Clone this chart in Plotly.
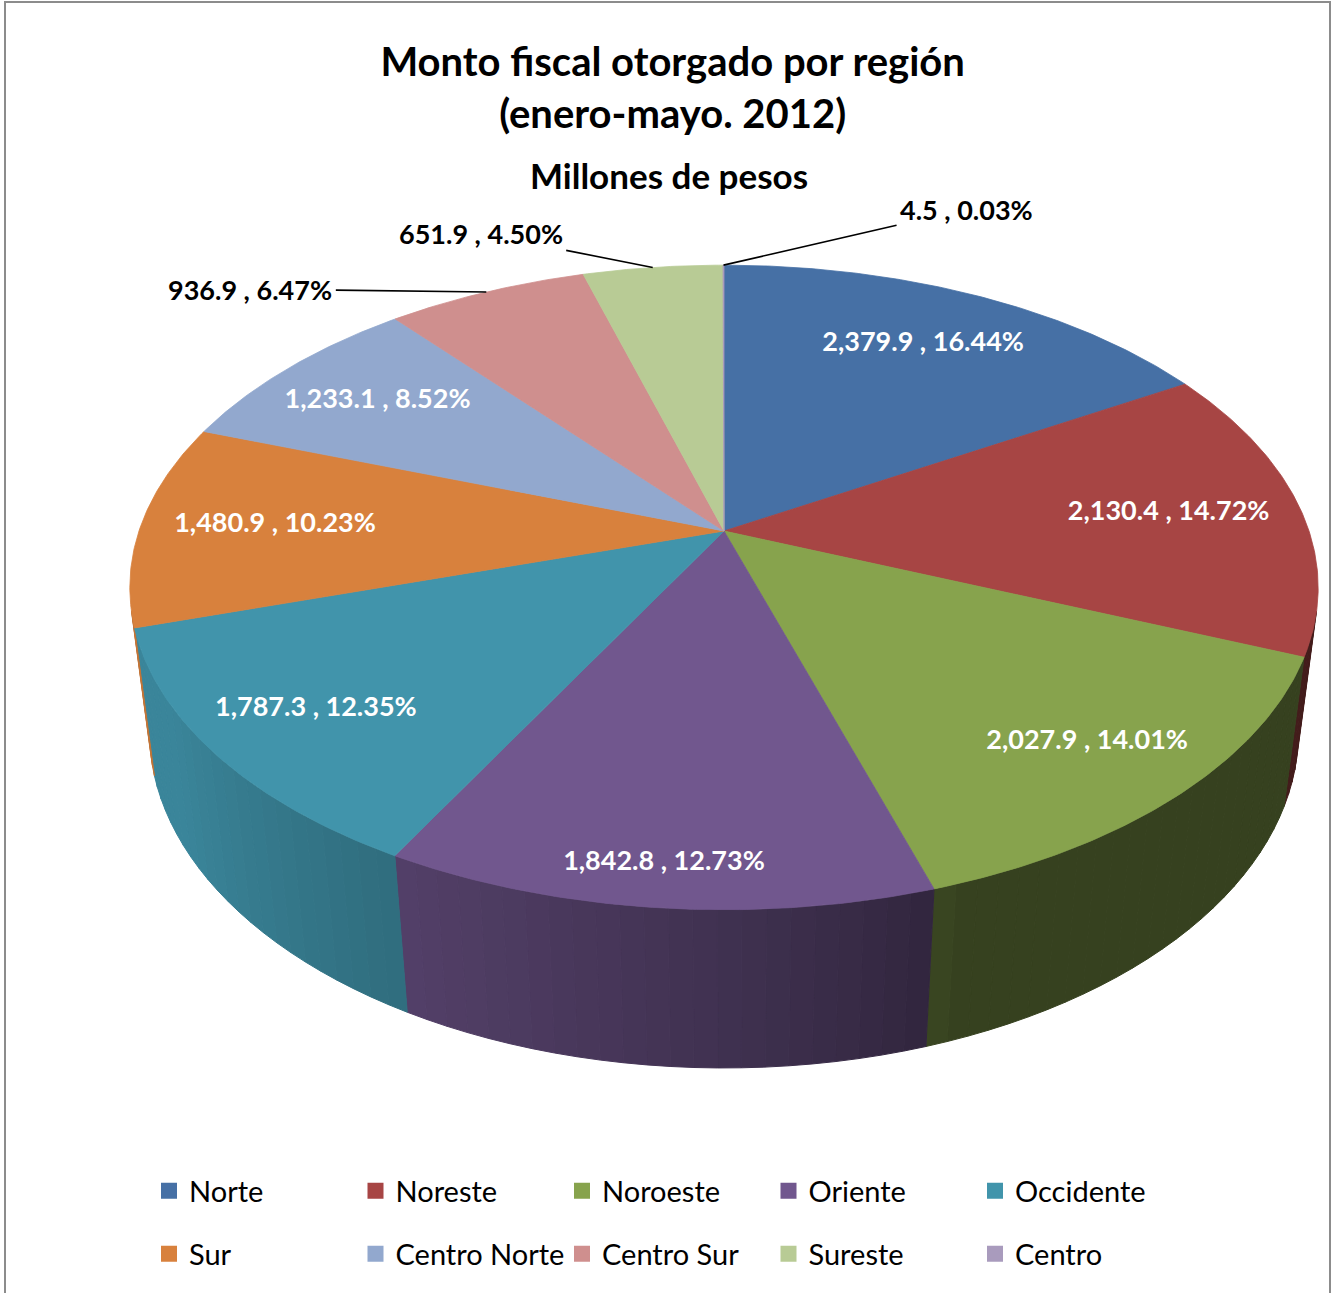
import numpy as np
import plotly.graph_objects as go

# ---------------- data ----------------
regions = ["Norte", "Noreste", "Noroeste", "Oriente", "Occidente",
           "Sur", "Centro Norte", "Centro Sur", "Sureste", "Centro"]
amounts = [2379.9, 2130.4, 2027.9, 1842.8, 1787.3,
           1480.9, 1233.1, 936.9, 651.9, 4.5]
shares = [16.44, 14.72, 14.01, 12.73, 12.35,
          10.23, 8.52, 6.47, 4.50, 0.03]

# ---------------- styles ----------------
colors = ["#4670A5", "#A74544", "#87A34D", "#71578E", "#4194AB",
          "#D8813D", "#92A8CE", "#CF8F8E", "#B8CB95", "#A99BBD"]
FONT = "Lato, 'Open Sans', sans-serif"
W, H = 1332, 1293

# 3D projection of the pie (pixel geometry)
CX, CY = 724.0, 531.0        # centre of the pie top
SR = 585.0                   # radius scale in px
DIST = 4.83                  # camera distance (in radii)
SINP = 0.534
PHI = np.arcsin(SINP)
THICK = 0.30                 # pie thickness (in radii)

# label placement (style): radial position of inside labels, offsets of outside labels
label_radius = {"Norte": 0.77, "Noreste": 0.77, "Noroeste": 0.82, "Oriente": 0.90,
                "Occidente": 0.82, "Sur": 0.77, "Centro Norte": 0.78}
outside_offsets = {"Centro Sur": (-236, -3), "Sureste": (-172, -34), "Centro": (243, -56)}


def project(r, theta, z=0.0):
    x = r * np.sin(theta)
    y = r * np.cos(theta)
    v = y * np.sin(PHI) + z * np.cos(PHI)
    w = DIST + y * np.cos(PHI) - z * np.sin(PHI)
    X = CX + SR * x * DIST / w
    Y = CY - SR * v * DIST / w
    return X, Y


def hex_to_rgb(h):
    h = h.lstrip("#")
    return tuple(int(h[i:i + 2], 16) for i in (0, 2, 4))


def shade(hexcol, f):
    r, g, b = hex_to_rgb(hexcol)
    return "rgb(%d,%d,%d)" % (round(r * f), round(g * f), round(b * f))


def wall_factor(theta_deg):
    t = np.clip((theta_deg - 160.0) / 80.0, 0, 1)
    return 0.40 + 0.5 * t ** 0.8


vals = np.array(amounts, dtype=float)
bounds = np.concatenate([[0.0], np.cumsum(vals) / vals.sum() * 2 * np.pi])

# visible range of the side wall
cos_lim = -1.0 / (DIST * np.cos(PHI))
vis0 = np.arccos(cos_lim)
vis1 = 2 * np.pi - vis0

fig = go.Figure()

# ---- side walls ----
for i, reg in enumerate(regions):
    a0, a1 = max(bounds[i], vis0), min(bounds[i + 1], vis1)
    if a1 <= a0:
        continue
    nseg = max(1, int(np.ceil(np.degrees(a1 - a0) / 2.0)))
    edges = np.linspace(a0, a1, nseg + 1)
    for k in range(nseg):
        ta = np.linspace(edges[k], edges[k + 1], 4)
        xt, yt = project(1.0, ta, 0.0)
        xb, yb = project(1.0, ta[::-1], -THICK)
        xs = np.concatenate([xt, xb, xt[:1]])
        ys = np.concatenate([yt, yb, yt[:1]])
        col = shade(colors[i], wall_factor(np.degrees((edges[k] + edges[k + 1]) / 2)))
        fig.add_trace(go.Scatter(x=xs, y=ys, mode="lines", fill="toself",
                                 fillcolor=col, line=dict(color=col, width=1),
                                 hoverinfo="skip", showlegend=False))

# ---- top surfaces ----
for i, reg in enumerate(regions):
    n = max(3, int(np.ceil(np.degrees(bounds[i + 1] - bounds[i]) / 0.5)))
    ta = np.linspace(bounds[i], bounds[i + 1], n)
    xa, ya = project(1.0, ta, 0.0)
    xs = np.concatenate([[CX], xa, [CX]])
    ys = np.concatenate([[CY], ya, [CY]])
    fig.add_trace(go.Scatter(x=xs, y=ys, mode="lines", fill="toself",
                             fillcolor=colors[i], line=dict(color=colors[i], width=0.8),
                             hoverinfo="text", text=reg, showlegend=False))

# ---- labels ----
label_text = ["%s , %.2f%%" % (f"{a:,.1f}", s) for a, s in zip(amounts, shares)]
mids = (bounds[:-1] + bounds[1:]) / 2
in_x, in_y, in_t = [], [], []
annotations = []
for i, reg in enumerate(regions):
    if reg in outside_offsets:
        px, py = project(1.0, mids[i], 0.0)
        ax, ay = outside_offsets[reg]
        annotations.append(dict(x=px, y=py, xref="x", yref="y", ax=ax, ay=ay,
                                text="<b>%s</b>" % label_text[i], showarrow=True,
                                arrowhead=0, arrowwidth=1.6, arrowcolor="black",
                                standoff=0, startstandoff=2,
                                font=dict(family=FONT, size=27, color="black")))
    else:
        px, py = project(label_radius[reg], mids[i], 0.0)
        in_x.append(px)
        in_y.append(py)
        in_t.append(label_text[i])

fig.add_trace(go.Scatter(x=in_x, y=in_y, mode="text", text=in_t,
                         textposition="middle center",
                         textfont=dict(family=FONT, size=27, color="white", weight="bold"),
                         hoverinfo="skip", showlegend=False))

# ---- legend entries ----
for i, reg in enumerate(regions):
    fig.add_trace(go.Scatter(x=[None], y=[None], mode="markers", name=reg,
                             marker=dict(symbol="square", size=16, color=colors[i]),
                             legend="legend" if i < 5 else "legend2"))

# subtitle
annotations.append(dict(x=0.502, y=1 - 175 / H, xref="paper", yref="paper",
                        text="<b>Millones de pesos</b>", showarrow=False,
                        xanchor="center", yanchor="middle",
                        font=dict(family=FONT, size=35, color="black")))

legend_common = dict(orientation="h", xanchor="left", yanchor="middle",
                     entrywidth=161.5, entrywidthmode="pixels",
                     font=dict(family=FONT, size=29, color="black"),
                     bgcolor="rgba(0,0,0,0)", itemclick=False, itemdoubleclick=False)

fig.update_layout(
    width=W, height=H,
    margin=dict(l=0, r=0, t=0, b=0),
    paper_bgcolor="white", plot_bgcolor="white",
    title=dict(text="<b>Monto fiscal otorgado por región<br>(enero-mayo. 2012)</b>",
               x=0.505, xanchor="center", y=1 - 76 / H, yanchor="middle",
               yref="container",
               font=dict(family=FONT, size=40, color="black")),
    xaxis=dict(range=[0, W], visible=False, fixedrange=True),
    yaxis=dict(range=[H, 0], visible=False, fixedrange=True),
    legend=dict(x=149 / W, y=1 - 1191 / H, **legend_common),
    legend2=dict(x=149 / W, y=1 - 1254 / H, **legend_common),
    annotations=annotations,
    shapes=[dict(type="rect", xref="x", yref="y", x0=5, x1=1330, y0=2, y1=1310,
                 line=dict(color="#8c8c8c", width=2), fillcolor="rgba(0,0,0,0)",
                 layer="below")],
    showlegend=True,
)

fig.write_html("out.html", config={"displayModeBar": False},
               post_script="document.body.style.margin='0px';")
